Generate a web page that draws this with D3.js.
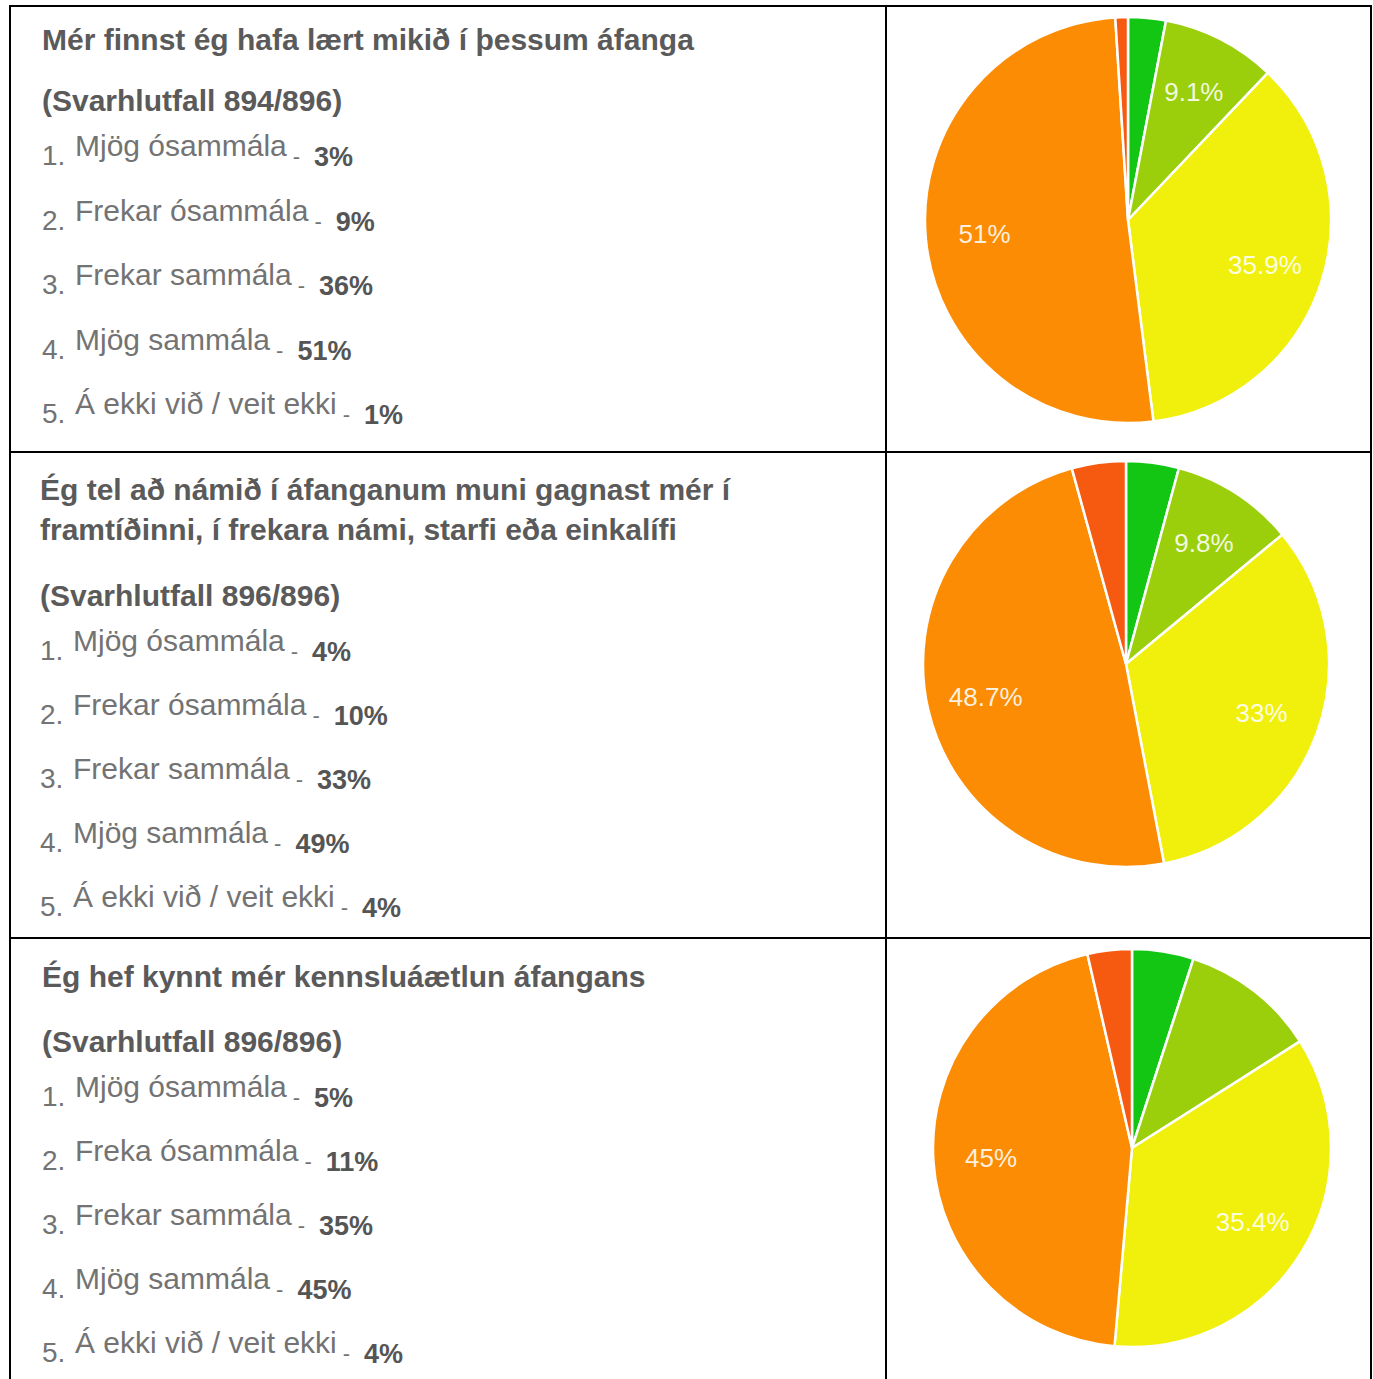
<!DOCTYPE html>
<html>
<head>
<meta charset="utf-8">
<script src="https://cdn.jsdelivr.net/npm/d3@7"></script>
<style>
  body { margin: 0; background: #fff; }
  text { font-family: "Liberation Sans", Arial, sans-serif; }
</style>
</head>
<body>
<script>
// question texts
const titles = [
    ["Mér finnst ég hafa lært mikið í þessum áfanga"],
    ["Ég tel að námið í áfanganum muni gagnast mér í", "framtíðinni, í frekara námi, starfi eða einkalífi"],
    ["Ég hef kynnt mér kennsluáætlun áfangans"]
];
const responseRates = ["894/896", "896/896", "896/896"];

// answer options (third question has "Freka" in the original)
const options1 = ["Mjög ósammála", "Frekar ósammála", "Frekar sammála", "Mjög sammála", "Á ekki við / veit ekki"];
const options2 = ["Mjög ósammála", "Frekar ósammála", "Frekar sammála", "Mjög sammála", "Á ekki við / veit ekki"];
const options3 = ["Mjög ósammála", "Freka ósammála", "Frekar sammála", "Mjög sammála", "Á ekki við / veit ekki"];

// rounded percentages in the lists
const listPct1 = [3, 9, 36, 51, 1];
const listPct2 = [4, 10, 33, 49, 4];
const listPct3 = [5, 11, 35, 45, 4];

// slice sizes
const slices1 = [3.0, 9.1, 35.9, 51.0, 1.0];
const slices2 = [4.2, 9.8, 33.0, 48.7, 4.3];
const slices3 = [5.0, 11.0, 35.4, 45.0, 3.6];

// labels shown on the pies ("" = not shown)
const pieLabels1 = ["", "9.1%", "35.9%", "51%", ""];
const pieLabels2 = ["", "9.8%", "33%", "48.7%", ""];
const pieLabels3 = ["", "", "35.4%", "45%", ""];

const sliceColors = ["#14c614", "#9bcf0b", "#f0f00c", "#fc8c03", "#f65a10"];

const questions = [
    { title: titles[0], rate: responseRates[0], options: options1, pct: listPct1, slices: slices1, labels: pieLabels1 },
    { title: titles[1], rate: responseRates[1], options: options2, pct: listPct2, slices: slices2, labels: pieLabels2 },
    { title: titles[2], rate: responseRates[2], options: options3, pct: listPct3, slices: slices3, labels: pieLabels3 }
];

const width = 1373;
const height = 1379;

// layout of the table cells
const rowTops = [6, 452, 938];
const leftX = 10, midX = 886, rightX = 1371;
const textX = [42, 40, 42];
const titleOffset = [44, 48, 49];
const subtitleGap = [61, 66, 65];
const rowStep = [64.5, 64, 64];
const pieCenters = [[1128, 220], [1126, 664], [1132, 1148]];
const pieRadii = [203, 203, 199];

const svg = d3.select("body")
    .append("svg")
    .attr("width", width)
    .attr("height", height);

svg.append("rect").attr("width", width).attr("height", height).attr("fill", "#fff");

const color = d3.scaleOrdinal()
    .domain(d3.range(5))
    .range(sliceColors);

const pie = d3.pie()
    .sort(null)
    .value(d => d);

questions.forEach((q, qi) => {
    const top = rowTops[qi];
    const x0 = textX[qi];
    const g = svg.append("g");

    // title lines
    let y = top + titleOffset[qi];
    q.title.forEach((line, li) => {
        g.append("text")
            .attr("x", x0)
            .attr("y", y + li * 40)
            .attr("fill", "#5a5a5a")
            .style("font-size", "30px")
            .style("font-weight", "bold")
            .text(line);
    });
    y += (q.title.length - 1) * 40 + subtitleGap[qi];

    g.append("text")
        .attr("x", x0)
        .attr("y", y)
        .attr("fill", "#5a5a5a")
        .style("font-size", "30px")
        .style("font-weight", "bold")
        .text(`(Svarhlutfall ${q.rate})`);

    const rowY = d3.scaleLinear().domain([0, 1]).range([y + 54, y + 54 + rowStep[qi]]);

    q.options.forEach((opt, i) => {
        const t = g.append("text")
            .attr("x", x0)
            .attr("y", rowY(i))
            .attr("fill", "#737373");
        t.append("tspan")
            .style("font-size", "28px")
            .text(`${i + 1}.`);
        t.append("tspan")
            .attr("x", x0 + 33)
            .attr("dy", -9)
            .style("font-size", "30px")
            .text(opt);
        t.append("tspan")
            .attr("dx", 6)
            .attr("dy", 8)
            .style("font-size", "22px")
            .text("-");
        t.append("tspan")
            .attr("dx", 14)
            .attr("dy", 2)
            .attr("fill", "#555")
            .style("font-size", "27px")
            .style("font-weight", "bold")
            .text(`${q.pct[i]}%`);
    });

    // pie
    const [cx, cy] = pieCenters[qi];
    const r = pieRadii[qi];
    const arc = d3.arc().innerRadius(0).outerRadius(r);
    const labelArc = d3.arc().innerRadius(r * 0.71).outerRadius(r * 0.71);
    const arcs = pie(q.slices);

    const pg = svg.append("g").attr("transform", `translate(${cx},${cy})`);
    pg.selectAll("path")
        .data(arcs)
        .enter().append("path")
        .attr("d", arc)
        .attr("fill", (d, i) => color(i))
        .attr("stroke", "#fff")
        .attr("stroke-width", 2.5)
        .attr("stroke-linejoin", "round");

    pg.selectAll("text")
        .data(arcs)
        .enter().append("text")
        .attr("transform", d => `translate(${labelArc.centroid(d)})`)
        .attr("text-anchor", "middle")
        .attr("dy", "0.35em")
        .attr("fill", "#fff")
        .attr("fill-opacity", 0.88)
        .style("font-size", "26px")
        .text((d, i) => q.labels[i]);
});

// table borders
const lines = svg.append("g").attr("stroke", "#000").attr("stroke-width", 2);
[leftX, midX, rightX].forEach(x => {
    lines.append("line").attr("x1", x).attr("x2", x).attr("y1", rowTops[0]).attr("y2", height);
});
rowTops.forEach(y => {
    lines.append("line").attr("x1", leftX - 1).attr("x2", rightX + 1).attr("y1", y).attr("y2", y);
});
</script>
</body>
</html>
